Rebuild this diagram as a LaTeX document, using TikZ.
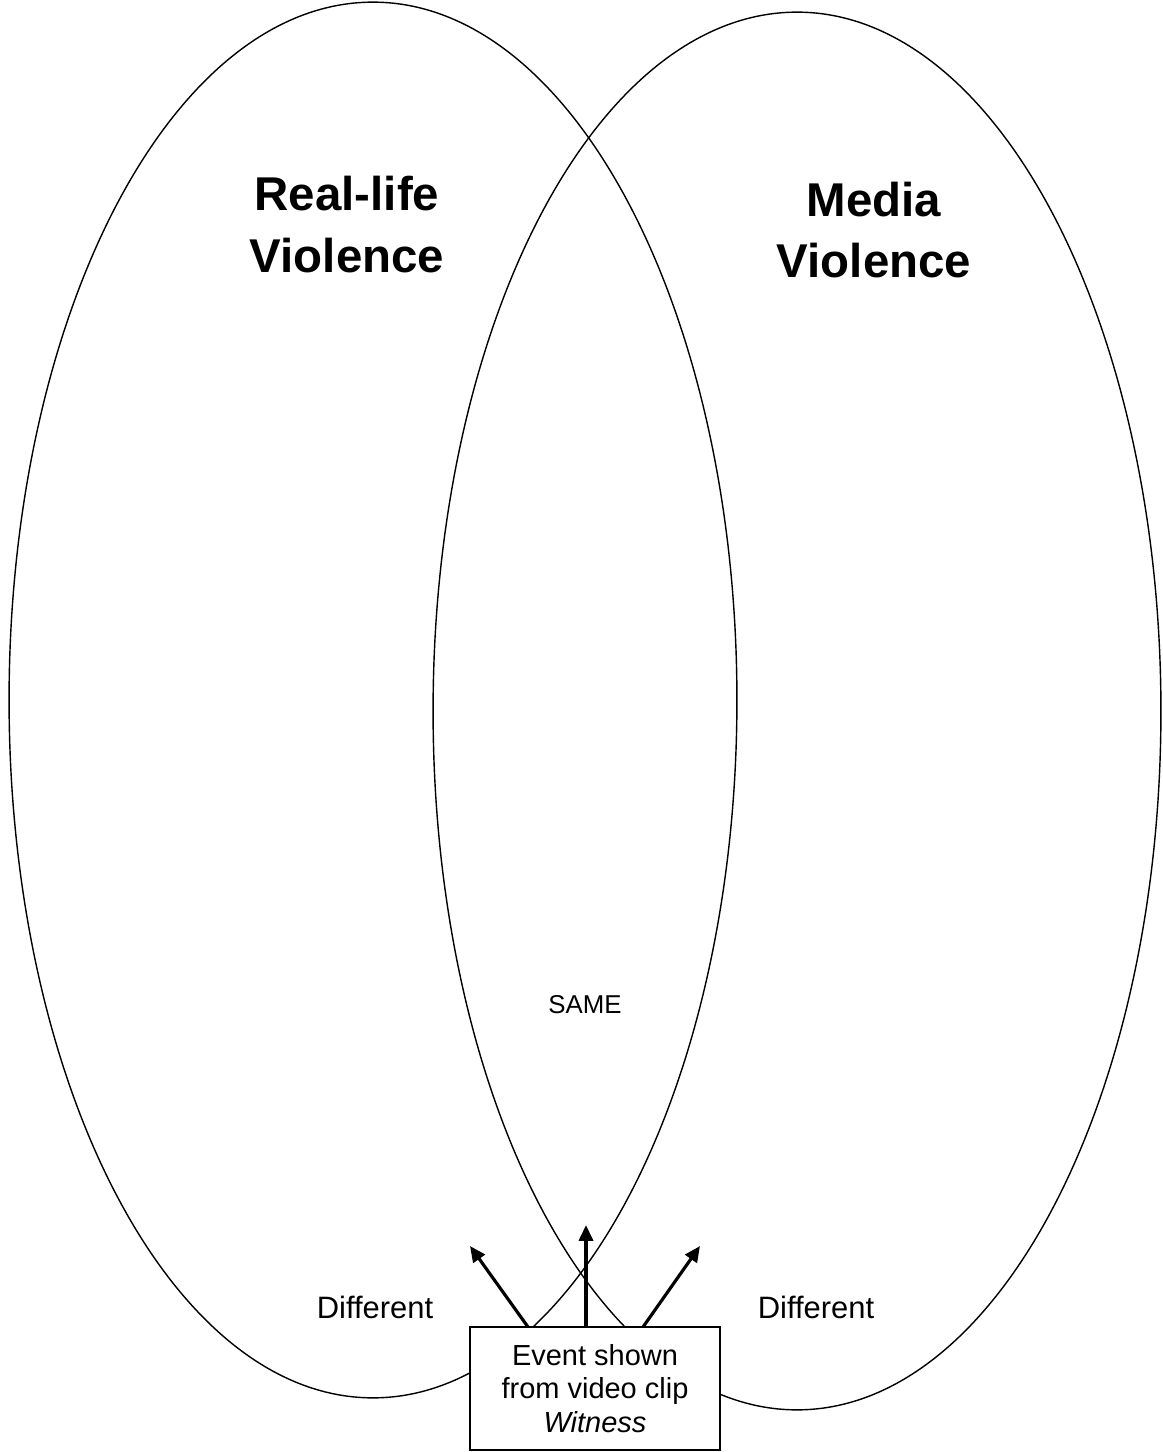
\documentclass[tikz,border=0pt]{standalone}
\usepackage{fontspec}
\setmainfont{Liberation Sans}
\usetikzlibrary{arrows.meta}
\begin{document}
\begin{tikzpicture}[x=0.02cm,y=-0.02cm,
  oval/.style={draw=black,line width=0.8pt},
  title/.style={font=\fontsize{27}{35}\selectfont\bfseries,align=center,inner sep=0pt},
  lbl/.style={font=\fontsize{17.6}{20}\selectfont,inner sep=0pt},
  eventbox/.style={draw=black,fill=white,line width=0.8pt,minimum width=5cm,minimum height=2.46cm,align=center,font=\fontsize{16.5}{19}\selectfont,inner sep=0pt},
  ptr/.style={line width=1.8pt,-{Triangle[length=9pt,width=8pt]}}]
\useasboundingbox (0,0) rectangle (1162,1452);
\draw[oval] (373,700) ellipse [x radius=7.28cm, y radius=13.96cm];
\draw[oval] (797,711) ellipse [x radius=7.28cm, y radius=13.98cm];
\node[title] (rl) at (347,224.5) {Real-life\\Violence};
\node[title] (mv) at (874,230) {Media\\Violence};
\node[font=\fontsize{14.7}{17}\selectfont,inner sep=0pt] (same) at (585,1005) {SAME};
\node[lbl] (d1) at (375,1307.5) {Different};
\node[lbl] (d2) at (816,1307.5) {Different};
\node[eventbox] (box) at (595,1388.5) {Event shown\\from video clip\\\textit{Witness}};
\coordinate (t1) at (528,1327);
\coordinate (t2) at (586,1327);
\coordinate (t3) at (643,1327);
\coordinate (h1) at (470,1246);
\coordinate (h2) at (586,1225);
\coordinate (h3) at (700,1246);
\draw[ptr] (t1) -- (h1);
\draw[ptr] (t2) -- (h2);
\draw[ptr] (t3) -- (h3);
\end{tikzpicture}
\end{document}
